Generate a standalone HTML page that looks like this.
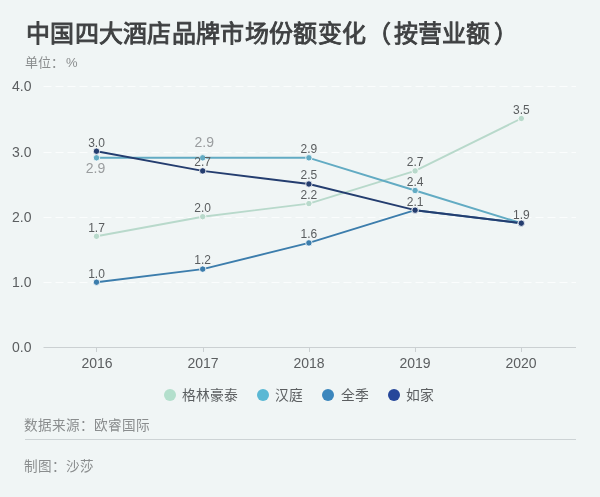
<!DOCTYPE html>
<html lang="zh-CN"><head><meta charset="utf-8">
<style>
html,body{margin:0;padding:0;}
body{width:600px;height:497px;background:#f0f5f5;position:relative;overflow:hidden;font-family:"Liberation Sans",sans-serif;}
.t{position:absolute;white-space:nowrap;}
body>*{will-change:transform;}
#title{left:26px;top:13.5px;font-size:24px;font-weight:400;color:#3f4142;letter-spacing:0.3px;-webkit-text-stroke:0.9px #3f4142;}
#unit{left:25px;top:52px;font-size:13px;color:#8a8d8e;}
.yl{position:absolute;right:568.8px;font-size:14px;color:#5b5e60;}
.xl{position:absolute;font-size:14px;color:#5b5e60;width:60px;text-align:center;}
svg{position:absolute;left:0;top:0;}
.dl{font-size:12px;fill:#5a5d5f;text-anchor:middle;font-family:"Liberation Sans",sans-serif;}
.dl2{font-size:14px;fill:#9a9d9f;text-anchor:middle;font-family:"Liberation Sans",sans-serif;}
.lg{position:absolute;top:384px;font-size:13.8px;color:#5b5e60;}
.dot{position:absolute;top:388.5px;width:12px;height:12px;border-radius:50%;}
#src{left:23.8px;top:413.5px;font-size:13.6px;color:#8a8d8e;}
#hr{position:absolute;left:25px;top:438.5px;width:551px;height:1px;background:#cdd3d5;}
#by{left:23.8px;top:454.5px;font-size:13.6px;color:#8a8d8e;}
</style></head><body>
<div class="t" id="title">中国四大酒店品牌市场份额变化<span style="margin-left:1px;margin-right:2px">（</span>按营业额<span style="margin-left:3.5px">）</span></div>
<div class="t" id="unit">单位：<span style="margin-left:2px">%</span></div>
<div class="yl" style="top:78px">4.0</div>
<div class="yl" style="top:144px">3.0</div>
<div class="yl" style="top:209px">2.0</div>
<div class="yl" style="top:274px">1.0</div>
<div class="yl" style="top:339px">0.0</div>
<div class="xl" style="left:66.5px;top:355px">2016</div>
<div class="xl" style="left:172.7px;top:355px">2017</div>
<div class="xl" style="left:278.9px;top:355px">2018</div>
<div class="xl" style="left:385.1px;top:355px">2019</div>
<div class="xl" style="left:491.3px;top:355px">2020</div>
<svg width="600" height="497" viewBox="0 0 600 497">
<line x1="43.5" x2="576" y1="86.5" y2="86.5" stroke="#fbfdfd" stroke-width="1" stroke-dasharray="8 4"/>
<line x1="43.5" x2="576" y1="152.5" y2="152.5" stroke="#fbfdfd" stroke-width="1" stroke-dasharray="8 4"/>
<line x1="43.5" x2="576" y1="217.5" y2="217.5" stroke="#fbfdfd" stroke-width="1" stroke-dasharray="8 4"/>
<line x1="43.5" x2="576" y1="282.5" y2="282.5" stroke="#fbfdfd" stroke-width="1" stroke-dasharray="8 4"/>
<line x1="43.5" x2="576" y1="347.5" y2="347.5" stroke="#cbd0d2" stroke-width="1"/>
<line x1="96.5" x2="96.5" y1="347.5" y2="352" stroke="#cbd0d2" stroke-width="1"/>
<line x1="203.5" x2="203.5" y1="347.5" y2="352" stroke="#cbd0d2" stroke-width="1"/>
<line x1="309.5" x2="309.5" y1="347.5" y2="352" stroke="#cbd0d2" stroke-width="1"/>
<line x1="415.5" x2="415.5" y1="347.5" y2="352" stroke="#cbd0d2" stroke-width="1"/>
<line x1="521.5" x2="521.5" y1="347.5" y2="352" stroke="#cbd0d2" stroke-width="1"/>
<polyline points="96.5,236.3 202.7,216.7 308.9,203.6 415.1,170.9 521.3,118.5" fill="none" stroke="#b8d9cb" stroke-width="1.9" stroke-linejoin="round"/>
<polyline points="96.5,157.8 202.7,157.8 308.9,157.8 415.1,190.5 521.3,223.2" fill="none" stroke="#62abc3" stroke-width="1.9" stroke-linejoin="round"/>
<polyline points="96.5,282.2 202.7,269.1 308.9,242.9 415.1,210.2 521.3,223.2" fill="none" stroke="#3c7dac" stroke-width="1.9" stroke-linejoin="round"/>
<polyline points="96.5,151.2 202.7,170.9 308.9,184.0 415.1,210.2 521.3,223.2" fill="none" stroke="#243d6f" stroke-width="1.9" stroke-linejoin="round"/>
<circle cx="96.5" cy="236.3" r="3.2" fill="#b8d9cb" stroke="#fff" stroke-width="0.8"/>
<circle cx="202.7" cy="216.7" r="3.2" fill="#b8d9cb" stroke="#fff" stroke-width="0.8"/>
<circle cx="308.9" cy="203.6" r="3.2" fill="#b8d9cb" stroke="#fff" stroke-width="0.8"/>
<circle cx="415.1" cy="170.9" r="3.2" fill="#b8d9cb" stroke="#fff" stroke-width="0.8"/>
<circle cx="521.3" cy="118.5" r="3.2" fill="#b8d9cb" stroke="#fff" stroke-width="0.8"/>
<circle cx="96.5" cy="157.8" r="3.2" fill="#62abc3" stroke="#fff" stroke-width="0.8"/>
<circle cx="202.7" cy="157.8" r="3.2" fill="#62abc3" stroke="#fff" stroke-width="0.8"/>
<circle cx="308.9" cy="157.8" r="3.2" fill="#62abc3" stroke="#fff" stroke-width="0.8"/>
<circle cx="415.1" cy="190.5" r="3.2" fill="#62abc3" stroke="#fff" stroke-width="0.8"/>
<circle cx="521.3" cy="223.2" r="3.2" fill="#62abc3" stroke="#fff" stroke-width="0.8"/>
<circle cx="96.5" cy="282.2" r="3.2" fill="#3c7dac" stroke="#fff" stroke-width="0.8"/>
<circle cx="202.7" cy="269.1" r="3.2" fill="#3c7dac" stroke="#fff" stroke-width="0.8"/>
<circle cx="308.9" cy="242.9" r="3.2" fill="#3c7dac" stroke="#fff" stroke-width="0.8"/>
<circle cx="415.1" cy="210.2" r="3.2" fill="#3c7dac" stroke="#fff" stroke-width="0.8"/>
<circle cx="521.3" cy="223.2" r="3.2" fill="#3c7dac" stroke="#fff" stroke-width="0.8"/>
<circle cx="96.5" cy="151.2" r="3.2" fill="#243d6f" stroke="#fff" stroke-width="0.8"/>
<circle cx="202.7" cy="170.9" r="3.2" fill="#243d6f" stroke="#fff" stroke-width="0.8"/>
<circle cx="308.9" cy="184.0" r="3.2" fill="#243d6f" stroke="#fff" stroke-width="0.8"/>
<circle cx="415.1" cy="210.2" r="3.2" fill="#243d6f" stroke="#fff" stroke-width="0.8"/>
<circle cx="521.3" cy="223.2" r="3.2" fill="#243d6f" stroke="#fff" stroke-width="0.8"/>
<text x="96.5" y="231.6" class="dl">1.7</text>
<text x="202.7" y="212.0" class="dl">2.0</text>
<text x="308.9" y="198.9" class="dl">2.2</text>
<text x="415.1" y="166.2" class="dl">2.7</text>
<text x="521.3" y="113.8" class="dl">3.5</text>
<text x="95.5" y="173.2" class="dl2">2.9</text>
<text x="204.2" y="147.3" class="dl2">2.9</text>
<text x="308.9" y="153.1" class="dl">2.9</text>
<text x="415.1" y="185.8" class="dl">2.4</text>
<text x="96.5" y="277.5" class="dl">1.0</text>
<text x="202.7" y="264.4" class="dl">1.2</text>
<text x="308.9" y="238.2" class="dl">1.6</text>
<text x="96.5" y="146.6" class="dl">3.0</text>
<text x="202.7" y="166.2" class="dl">2.7</text>
<text x="308.9" y="179.3" class="dl">2.5</text>
<text x="415.1" y="205.5" class="dl">2.1</text>
<text x="521.3" y="218.5" class="dl">1.9</text>
</svg>
<div class="dot" style="left:163.8px;background:#b3dfcc"></div><div class="lg" style="left:182px">格林豪泰</div>
<div class="dot" style="left:257px;background:#5ab8d4"></div><div class="lg" style="left:275px">汉庭</div>
<div class="dot" style="left:322.2px;background:#3b86bd"></div><div class="lg" style="left:340.5px">全季</div>
<div class="dot" style="left:388px;background:#26479a"></div><div class="lg" style="left:406px">如家</div>
<div class="t" id="src">数据来源：欧睿国际</div>
<div id="hr"></div>
<div class="t" id="by">制图：沙莎</div>
</body></html>
